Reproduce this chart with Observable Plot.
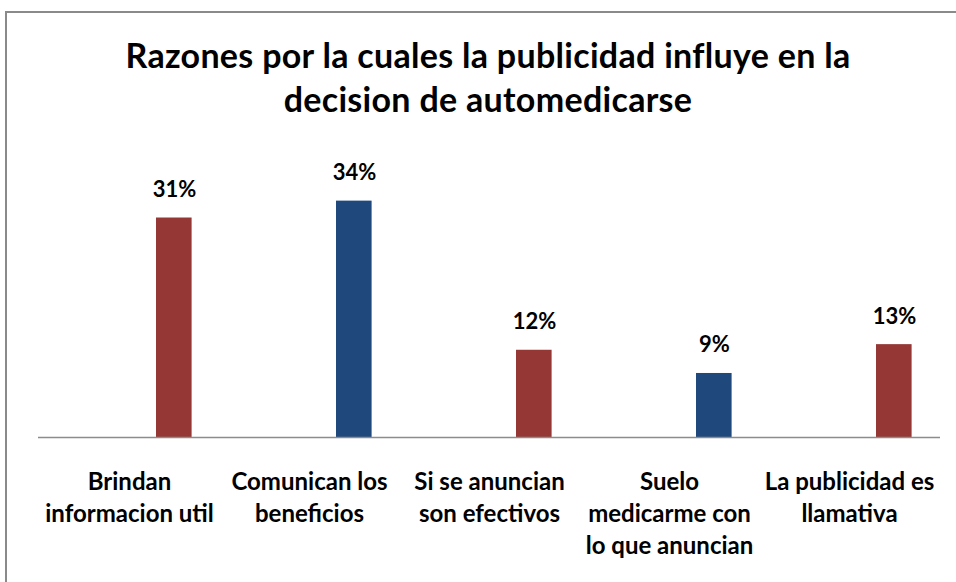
<!DOCTYPE html>
<html>
<head>
<meta charset="utf-8">
<script src="https://cdn.jsdelivr.net/npm/d3@7"></script>
<script src="https://cdn.jsdelivr.net/npm/@observablehq/plot@0.6"></script>
<style>
  html, body { margin: 0; padding: 0; background: #fff; }
  #wrap { position: relative; width: 956px; height: 582px; overflow: hidden; font-family: Lato, "Open Sans", sans-serif; }
  #frame { position: absolute; left: 5px; top: 11px; width: 1000px; height: 700px; border-top: 2px solid #8a8a8a; border-left: 2px solid #8a8a8a; }
  #title { position: relative; height: 140px; width: 956px; box-sizing: border-box; padding-top: 33px; padding-left: 20px;
           text-align: center; font-weight: bold; font-size: 34px; letter-spacing: 0.3px; line-height: 44px; color: #000; }
  #chart { position: relative; }
</style>
</head>
<body>
<div id="wrap">
  <div id="frame"></div>
  <div id="title">Razones por la cuales la publicidad influye en la<br>decision de automedicarse</div>
  <div id="chart"></div>
</div>
<script>
const categories = [
  "Brindan informacion util",
  "Comunican los beneficios",
  "Si se anuncian son efectivos",
  "Suelo medicarme con lo que anuncian",
  "La publicidad es llamativa"
];
const tickLabels = [
  "Brindan\ninformacion util",
  "Comunican los\nbeneficios",
  "Si se anuncian\nson efectivos",
  "Suelo\nmedicarme con\nlo que anuncian",
  "La publicidad es\nllamativa"
];
const values = [31.2, 33.6, 12.4, 9.1, 13.2];
const valueLabels = ["31%", "34%", "12%", "9%", "13%"];
const series = ["Serie 1", "Serie 2", "Serie 1", "Serie 2", "Serie 1"];

const data = categories.map((c, i) => ({cat: c, value: values[i], label: valueLabels[i], tick: tickLabels[i], serie: series[i]}));

const chart = Plot.plot({
  width: 956,
  height: 442,
  marginLeft: 38,
  marginRight: 16,
  marginTop: 15.6,
  marginBottom: 145,
  style: {fontFamily: "Lato, 'Open Sans', sans-serif", background: "transparent", color: "#000"},
  x: {type: "band", domain: categories, padding: 0, axis: null},
  y: {domain: [0, 40], axis: null},
  color: {domain: ["Serie 1", "Serie 2"], range: ["#953735", "#1f497d"]},
  marks: [
    Plot.barY(data, {x: "cat", y: "value", fill: "serie", insetLeft: 117, insetRight: 27.4}),
    Plot.ruleY([0], {stroke: "#8c8c8c", strokeWidth: 1.5}),
    Plot.text(data, {x: "cat", y: "value", text: "label", dx: 45, dy: -21, lineAnchor: "bottom",
                     fontSize: 22, fontWeight: "bold", fill: "#000"}),
    Plot.text(data, {x: "cat", frameAnchor: "bottom", text: "tick", lineAnchor: "top", dy: 30,
                     lineHeight: 1.33, fontSize: 24, fontWeight: "bold", fill: "#000"})
  ]
});
document.getElementById("chart").appendChild(chart);
</script>
</body>
</html>
